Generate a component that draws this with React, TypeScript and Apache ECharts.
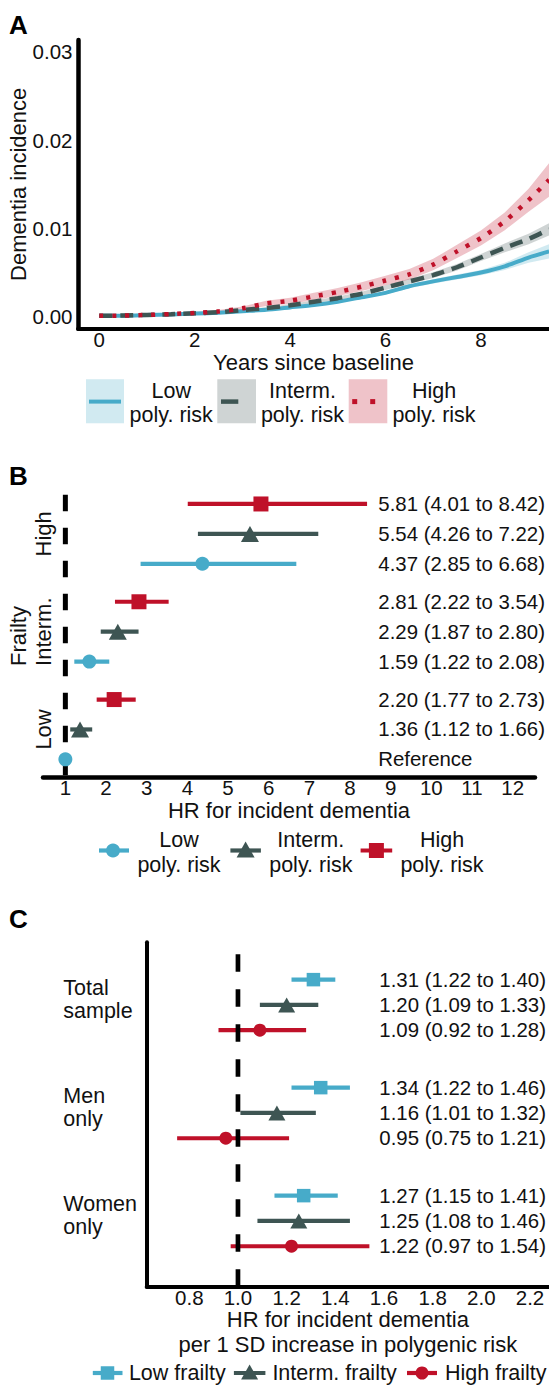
import React, { useEffect, useRef } from "react";
import * as echarts from "echarts";

const FONT = "'Liberation Sans', Arial, Helvetica, sans-serif";
const INK = "#111111";
const COL_LOW = "#47abc9";
const COL_INT = "#3e5553";
const COL_HIGH = "#bf1129";

// ---------------- Panel A: cumulative dementia incidence ----------------
const years = [0, 0.5, 1, 1.5, 2, 2.5, 3, 3.5, 4, 4.5, 5, 5.5, 6, 6.5, 7, 7.5, 8, 8.5, 9, 9.43];
const lowPolyInc = [0.0001, 0.00012, 0.00018, 0.00025, 0.00035, 0.00045, 0.00062, 0.00078, 0.00105, 0.00132, 0.0017, 0.0022, 0.0027, 0.00345, 0.004, 0.0045, 0.005, 0.0057, 0.0067, 0.0074];
const lowPolyLower = [0.00005, 0.00007, 0.00013, 0.0002, 0.0003, 0.0004, 0.00057, 0.00068, 0.00095, 0.00122, 0.00157, 0.00205, 0.0025, 0.00323, 0.00375, 0.00422, 0.0047, 0.0053, 0.0061, 0.0066];
const lowPolyUpper = [0.00015, 0.00017, 0.00023, 0.0003, 0.0004, 0.0005, 0.00067, 0.00088, 0.00115, 0.00142, 0.00183, 0.00235, 0.0029, 0.00367, 0.00425, 0.00478, 0.0053, 0.0061, 0.0073, 0.0082];
const intPolyInc = [0.0001, 0.00013, 0.0002, 0.00028, 0.00038, 0.0005, 0.00075, 0.00098, 0.0013, 0.0017, 0.0021, 0.0026, 0.0033, 0.004, 0.0047, 0.0056, 0.0067, 0.0078, 0.0088, 0.0099];
const intPolyLower = [0.00004, 0.00007, 0.00014, 0.00022, 0.00032, 0.00044, 0.00069, 0.00088, 0.00118, 0.00155, 0.0019, 0.00237, 0.00303, 0.0037, 0.00437, 0.00523, 0.0063, 0.0073, 0.0082, 0.0092];
const intPolyUpper = [0.00016, 0.00019, 0.00026, 0.00034, 0.00044, 0.00056, 0.00081, 0.00108, 0.00142, 0.00185, 0.0023, 0.00283, 0.00357, 0.0043, 0.00503, 0.00597, 0.0071, 0.0083, 0.0094, 0.0106];
const highPolyInc = [0.0001, 0.00013, 0.0002, 0.0003, 0.00042, 0.0006, 0.00095, 0.0015, 0.0018, 0.0023, 0.0028, 0.0034, 0.0041, 0.0048, 0.0059, 0.0074, 0.0089, 0.0108, 0.0132, 0.0155];
const highPolyLower = [0.00005, 0.00005, 0.0001, 0.0002, 0.00032, 0.00045, 0.00075, 0.0012, 0.00145, 0.0019, 0.00235, 0.0029, 0.00355, 0.0042, 0.00525, 0.00665, 0.00805, 0.0098, 0.0119, 0.0136];
const highPolyUpper = [0.00015, 0.00023, 0.0003, 0.0004, 0.00052, 0.00075, 0.00115, 0.0018, 0.00215, 0.0027, 0.00325, 0.0039, 0.00465, 0.0054, 0.00655, 0.00815, 0.00975, 0.0118, 0.0145, 0.0174];
const yearTicks = [0, 2, 4, 6, 8];
const incidenceTicks = [0, 0.01, 0.02, 0.03];
const polyRiskNames = ["Low\npoly. risk", "Interm.\npoly. risk", "High\npoly. risk"];

// ---------------- Panel B: HR by frailty x polygenic risk ----------------
const frailtyLevels = ["Low", "Interm.", "High"];
const bLowPolyHR = [1.0, 1.59, 4.37];
const bLowPolyLo = [1.0, 1.22, 2.85];
const bLowPolyHi = [1.0, 2.08, 6.68];
const bIntPolyHR = [1.36, 2.29, 5.54];
const bIntPolyLo = [1.12, 1.87, 4.26];
const bIntPolyHi = [1.66, 2.8, 7.22];
const bHighPolyHR = [2.2, 2.81, 5.81];
const bHighPolyLo = [1.77, 2.22, 4.01];
const bHighPolyHi = [2.73, 3.54, 8.42];
const hrTicksB = [1, 2, 3, 4, 5, 6, 7, 8, 9, 10, 11, 12];

// ---------------- Panel C: HR per 1 SD polygenic risk ----------------
const sampleGroups = ["Women\nonly", "Men\nonly", "Total\nsample"];
const cLowFrailHR = [1.27, 1.34, 1.31];
const cLowFrailLo = [1.15, 1.22, 1.22];
const cLowFrailHi = [1.41, 1.46, 1.4];
const cIntFrailHR = [1.25, 1.16, 1.2];
const cIntFrailLo = [1.08, 1.01, 1.09];
const cIntFrailHi = [1.46, 1.32, 1.33];
const cHighFrailHR = [1.22, 0.95, 1.09];
const cHighFrailLo = [0.97, 0.75, 0.92];
const cHighFrailHi = [1.54, 1.21, 1.28];
const hrTicksC = [0.8, 1.0, 1.2, 1.4, 1.6, 1.8, 2.0, 2.2];
const frailtyNames = ["Low frailty", "Interm. frailty", "High frailty"];

const TICK = { fontSize: 20.5, fontFamily: FONT, color: INK };
const TITLE = { fontSize: 22, fontFamily: FONT, color: INK };

function fade(hex: string, a: number) {
  const n = parseInt(hex.slice(1), 16);
  return `rgba(${(n >> 16) & 255},${(n >> 8) & 255},${n & 255},${a})`;
}

function fmtCI(hr: number, lo: number, hi: number) {
  if (lo === hi && hr === lo) return "Reference";
  return `${hr.toFixed(2)} (${lo.toFixed(2)} to ${hi.toFixed(2)})`;
}

function rows(hr: number[], lo: number[], hi: number[], step: number, k: number) {
  return hr.map((v, g) => [v, 1 + g * step + k, lo[g], hi[g]]);
}

function ribbon(lower: number[], upper: number[], color: string) {
  return {
    type: "custom", xAxisIndex: 0, yAxisIndex: 0, silent: true, z: 1, clip: true,
    data: years.map((t, i) => [t, lower[i], upper[i]]),
    encode: { x: 0, y: [1, 2] },
    renderItem: (p: any, api: any) => {
      if (p.dataIndex !== 0) return null;
      const top = years.map((t, i) => api.coord([t, upper[i]]));
      const bot = years.map((t, i) => api.coord([t, lower[i]])).reverse();
      return {
        type: "polygon",
        shape: { points: top.concat(bot) },
        style: { fill: fade(color, 0.25) },
      };
    },
  };
}

function curve(name: string, vals: number[], color: string, type: any, width: number) {
  return {
    type: "line", name, xAxisIndex: 0, yAxisIndex: 0, data: years.map((t, i) => [t, vals[i]]),
    symbol: "none", smooth: 0.2, silent: true, z: 3,
    lineStyle: { color, width, type, cap: "butt" },
  };
}

function errorBars(ai: number, data: number[][], color: string) {
  return {
    type: "custom", xAxisIndex: ai, yAxisIndex: ai, clip: false, silent: true, z: 2,
    data, encode: { x: [0, 2, 3], y: 1 },
    renderItem: (_p: any, api: any) => {
      const y = api.value(1);
      const a = api.coord([api.value(2), y]);
      const b = api.coord([api.value(3), y]);
      return {
        type: "line",
        shape: { x1: a[0], y1: a[1], x2: b[0], y2: b[1] },
        style: { stroke: color, lineWidth: 4.2 },
      };
    },
  };
}

function points(ai: number, data: number[][], color: string, symbol: string, size: any) {
  return {
    type: "scatter", xAxisIndex: ai, yAxisIndex: ai, silent: true, z: 5,
    data: data.map((r) => [r[0], r[1]]), symbol, symbolSize: size,
    itemStyle: { color, opacity: 1 },
  };
}

function rowLabels(ai: number, data: number[][], xPx: number) {
  const texts = data.map((r) => fmtCI(r[0], r[2], r[3]));
  return {
    type: "custom", xAxisIndex: ai, yAxisIndex: ai, clip: false, silent: true, z: 6,
    data: data.map((r) => [r[0], r[1]]),
    renderItem: (p: any, api: any) => {
      const c = api.coord([api.value(0), api.value(1)]);
      return {
        type: "text", x: xPx, y: c[1],
        style: {
          text: texts[p.dataIndex], fill: INK, fontSize: 20.4, fontFamily: FONT,
          align: "left", verticalAlign: "middle", textAlign: "left", textVerticalAlign: "middle",
        },
      };
    },
  };
}

function groupLabels(ai: number, names: string[], step: number, xPx: number, dy: number, rotate: boolean) {
  return {
    type: "custom", xAxisIndex: ai, yAxisIndex: ai, clip: false, silent: true, z: 6,
    data: names.map((_n, g) => [1, 2 + g * step]),
    renderItem: (p: any, api: any) => {
      const c = api.coord([api.value(0), api.value(1)]);
      return {
        type: "text", x: xPx, y: c[1] + dy, rotation: rotate ? Math.PI / 2 : 0,
        style: {
          text: names[p.dataIndex], fill: INK, fontSize: rotate ? 22 : 21.5, fontFamily: FONT,
          lineHeight: rotate ? 24 : 23,
          align: rotate ? "center" : "left", verticalAlign: "middle",
          textAlign: rotate ? "center" : "left", textVerticalAlign: "middle",
        },
      };
    },
  };
}

function txt(text: string, x: number, y: number, opts: any = {}) {
  return {
    type: "text", x, y, silent: true,
    style: {
      text, fill: opts.fill || INK, fontFamily: FONT, fontSize: opts.fontSize || 21.5,
      align: opts.align || "center", verticalAlign: "middle",
      textAlign: opts.align || "center", textVerticalAlign: "middle",
      lineHeight: opts.lineHeight || 24.5, fontWeight: opts.fontWeight || "normal",
    },
  };
}

function hline(x1: number, x2: number, y: number, color: string, w: number) {
  return { type: "line", silent: true, shape: { x1, y1: y, x2, y2: y }, style: { stroke: color, lineWidth: w } };
}

function tri(cx: number, cy: number, w: number, h: number, color: string) {
  return {
    type: "polygon", silent: true,
    shape: { points: [[cx - w / 2, cy + h / 2], [cx + w / 2, cy + h / 2], [cx, cy - h / 2]] },
    style: { fill: color },
  };
}

function sq(cx: number, cy: number, s: number, color: string) {
  return { type: "rect", silent: true, shape: { x: cx - s / 2, y: cy - s / 2, width: s, height: s }, style: { fill: color } };
}

function dot(cx: number, cy: number, r: number, color: string) {
  return { type: "circle", silent: true, shape: { cx, cy, r }, style: { fill: color } };
}

export default function App() {
  const ref = useRef<HTMLDivElement>(null);

  useEffect(() => {
    if (!ref.current) return;
    const chart = echarts.init(ref.current, undefined, { renderer: "svg" });

    const bLow = rows(bLowPolyHR, bLowPolyLo, bLowPolyHi, 3.27, 0);
    const bInt = rows(bIntPolyHR, bIntPolyLo, bIntPolyHi, 3.27, 1);
    const bHigh = rows(bHighPolyHR, bHighPolyLo, bHighPolyHi, 3.27, 2);
    const cHigh = rows(cHighFrailHR, cHighFrailLo, cHighFrailHi, 4.27, 0);
    const cInt = rows(cIntFrailHR, cIntFrailLo, cIntFrailHi, 4.27, 1);
    const cLow = rows(cLowFrailHR, cLowFrailLo, cLowFrailHi, 4.27, 2);

    const axisLineBlack = (w: number) => ({ show: true, onZero: false, lineStyle: { color: "#000", width: w } });

    const option: any = {
      animation: false,
      backgroundColor: "#ffffff",
      textStyle: { fontFamily: FONT },
      grid: [
        { left: 78, top: 40, width: 471, height: 288.7, outerBoundsMode: "none", containLabel: false },
        { left: 43, top: 494.7, width: 492, height: 282.6, outerBoundsMode: "none", containLabel: false },
        { left: 146.7, top: 942.2, width: 402.3, height: 344.5, outerBoundsMode: "none", containLabel: false },
      ],
      xAxis: [
        {
          type: "value", gridIndex: 0, min: -0.4465, max: 9.428,
          axisLine: axisLineBlack(4), axisTick: { show: false }, splitLine: { show: false },
          axisLabel: { ...TICK, customValues: yearTicks, margin: 11, verticalAlign: "middle" },
          name: "Years since baseline", nameLocation: "middle", nameGap: 34, nameMoveOverlap: false,
          nameTextStyle: { ...TITLE, verticalAlign: "middle" },
        },
        {
          type: "value", gridIndex: 1, min: 0.45, max: 12.55,
          axisLine: axisLineBlack(4.5), axisTick: { show: false }, splitLine: { show: false },
          axisLabel: { ...TICK, customValues: hrTicksB, margin: 10.4, verticalAlign: "middle" },
          name: "HR for incident dementia", nameLocation: "middle", nameGap: 33, nameMoveOverlap: false,
          nameTextStyle: { ...TITLE, verticalAlign: "middle" },
        },
        {
          type: "value", gridIndex: 2, min: 0.625, max: 2.278,
          axisLine: axisLineBlack(4), axisTick: { show: false }, splitLine: { show: false },
          axisLabel: {
            ...TICK, customValues: hrTicksC, margin: 10.6, verticalAlign: "middle",
            formatter: (v: number) => v.toFixed(1),
          },
          name: "HR for incident dementia\nper 1 SD increase in polygenic risk",
          nameLocation: "middle", nameGap: 45.6, nameMoveOverlap: false,
          nameTextStyle: { ...TITLE, verticalAlign: "middle", lineHeight: 25 },
        },
      ],
      yAxis: [
        {
          type: "value", gridIndex: 0, min: -0.00136, max: 0.03134,
          axisLine: axisLineBlack(4.5), axisTick: { show: false }, splitLine: { show: false },
          axisLabel: { ...TICK, customValues: incidenceTicks, margin: 5.5, formatter: (v: number) => v.toFixed(2) },
          name: "Dementia incidence", nameLocation: "middle", nameGap: 60, nameRotate: 90, nameMoveOverlap: false,
          nameTextStyle: { ...TITLE, verticalAlign: "middle" },
        },
        {
          type: "value", gridIndex: 1, min: 0.4, max: 9.85,
          axisLine: { show: false, onZero: false }, axisTick: { show: false }, splitLine: { show: false },
          axisLabel: { show: false },
          name: "Frailty", nameLocation: "middle", nameGap: 24.7, nameRotate: 90, nameMoveOverlap: false,
          nameTextStyle: { ...TITLE, verticalAlign: "middle" },
        },
        {
          type: "value", gridIndex: 2, min: -0.6, max: 13.02,
          axisLine: axisLineBlack(4), axisTick: { show: false }, splitLine: { show: false },
          axisLabel: { show: false },
        },
      ],
      series: [
        // Panel A
        ribbon(lowPolyLower, lowPolyUpper, COL_LOW),
        ribbon(intPolyLower, intPolyUpper, COL_INT),
        ribbon(highPolyLower, highPolyUpper, COL_HIGH),
        curve("Low poly. risk", lowPolyInc, COL_LOW, "solid", 4),
        curve("Interm. poly. risk", intPolyInc, COL_INT, [13, 8], 4.5),
        curve("High poly. risk", highPolyInc, COL_HIGH, [4, 9], 4.5),
        // Panel B
        errorBars(1, bLow, COL_LOW),
        errorBars(1, bInt, COL_INT),
        errorBars(1, bHigh, COL_HIGH),
        {
          type: "line", xAxisIndex: 1, yAxisIndex: 1, data: [[1, 9.85], [1, 0.4]], symbol: "none", silent: true, z: 3,
          lineStyle: { color: "#000", width: 5, type: [16.5, 16.5], cap: "butt" },
        },
        points(1, bLow, COL_LOW, "circle", 14),
        points(1, bInt, COL_INT, "triangle", [18, 16]),
        points(1, bHigh, COL_HIGH, "rect", 15),
        rowLabels(1, bLow, 378.3),
        rowLabels(1, bInt, 378.3),
        rowLabels(1, bHigh, 378.3),
        groupLabels(1, frailtyLevels, 3.27, 43.3, 0, true),
        // Panel C
        errorBars(2, cHigh, COL_HIGH),
        errorBars(2, cInt, COL_INT),
        errorBars(2, cLow, COL_LOW),
        {
          type: "line", xAxisIndex: 2, yAxisIndex: 2, data: [[1, -0.6], [1, 13.02]], symbol: "none", silent: true, z: 3,
          lineStyle: { color: "#000", width: 4.7, type: [17.5, 17.5], cap: "butt" },
        },
        points(2, cHigh, COL_HIGH, "circle", 13),
        points(2, cInt, COL_INT, "triangle", [17, 15]),
        points(2, cLow, COL_LOW, "rect", 13.5),
        rowLabels(2, cHigh, 379.3),
        rowLabels(2, cInt, 379.3),
        rowLabels(2, cLow, 379.3),
        groupLabels(2, sampleGroups, 4.27, 63.3, -5.4, false),
      ],
      graphic: [
        // panel letters
        txt("A", 9, 25, { align: "left", fontWeight: "bold", fontSize: 26, fill: "#000" }),
        txt("B", 9, 476, { align: "left", fontWeight: "bold", fontSize: 26, fill: "#000" }),
        txt("C", 9, 918.5, { align: "left", fontWeight: "bold", fontSize: 26, fill: "#000" }),
        // Panel A legend
        { type: "rect", silent: true, shape: { x: 86, y: 379.3, width: 38, height: 44 }, style: { fill: fade(COL_LOW, 0.25) } },
        hline(89, 121, 401.6, COL_LOW, 4),
        txt(polyRiskNames[0], 171.2, 402.9),
        { type: "rect", silent: true, shape: { x: 217.3, y: 379.3, width: 38.7, height: 44 }, style: { fill: fade(COL_INT, 0.25) } },
        hline(221, 238.3, 401.6, COL_INT, 4.5),
        txt(polyRiskNames[1], 302.5, 402.9),
        { type: "rect", silent: true, shape: { x: 348.7, y: 379.3, width: 38.6, height: 44 }, style: { fill: fade(COL_HIGH, 0.25) } },
        sq(354.7, 401.6, 5, COL_HIGH),
        sq(372.7, 401.6, 5, COL_HIGH),
        txt(polyRiskNames[2], 434, 402.9),
        // Panel B legend
        hline(99, 129, 850.5, COL_LOW, 4.2),
        dot(113, 850.5, 7, COL_LOW),
        txt(polyRiskNames[0], 179, 852.5, { lineHeight: 25 }),
        hline(230.4, 260.9, 850.5, COL_INT, 4.2),
        tri(245.6, 849.5, 18, 16, COL_INT),
        txt(polyRiskNames[1], 310.8, 852.5, { lineHeight: 25 }),
        hline(360.6, 392.2, 850.5, COL_HIGH, 4.2),
        sq(376.4, 850.5, 15, COL_HIGH),
        txt(polyRiskNames[2], 442, 852.5, { lineHeight: 25 }),
        // Panel C legend
        hline(92.8, 122.5, 1373, COL_LOW, 4.2),
        sq(107.5, 1373, 13.5, COL_LOW),
        txt(frailtyNames[0], 128.9, 1373, { align: "left" }),
        hline(233.9, 265.4, 1373, COL_INT, 4.2),
        tri(249.6, 1372, 17, 15, COL_INT),
        txt(frailtyNames[1], 272.4, 1373, { align: "left" }),
        hline(407, 437, 1373, COL_HIGH, 4.2),
        dot(422, 1373, 6.5, COL_HIGH),
        txt(frailtyNames[2], 445, 1373, { align: "left" }),
      ],
    };

    chart.setOption(option);
    return () => chart.dispose();
  }, []);

  return (
    <div
      ref={ref}
      style={{ position: "absolute", left: 0, top: 0, width: 549, height: 1388, background: "#fff" }}
    />
  );
}
